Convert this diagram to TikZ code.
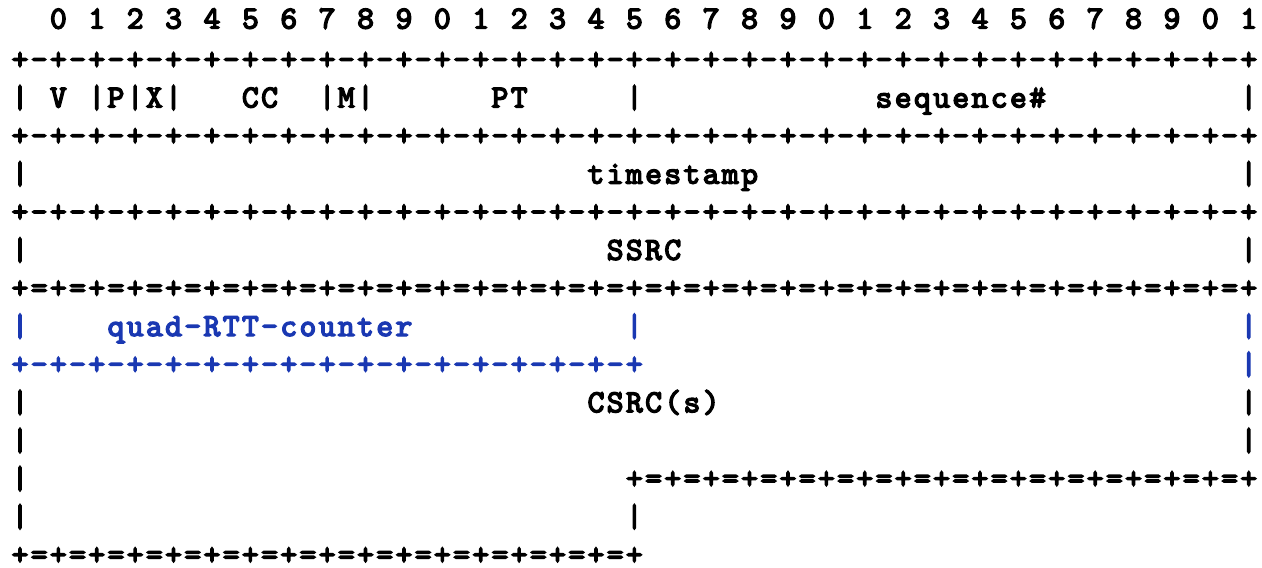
\documentclass[tikz,border=0pt]{standalone}
\usepackage{fontspec}
\newfontfamily\cmono{lmmono10-regular.otf}[FakeBold=4.5]
\definecolor{qblue}{RGB}{26,56,178}
\ExplSyntaxOn
\cs_new:Npn \myrep #1#2 { \prg_replicate:nn {#1} {#2} }
\tl_new:N \l_cellrow_tl
\cs_new_protected:Npn \cellrow #1
  {
    \tl_set:Nx \l_cellrow_tl {#1}
    \tl_map_inline:Nn \l_cellrow_tl
      {
        \tl_if_eq:nnTF {##1} {.}
          { \hbox_to_wd:nn {19.2pt} { } }
          { \hbox_to_wd:nn {19.2pt} { \hss ##1 \hss } }
      }
  }
\ExplSyntaxOff
\tikzset{
  asciirow/.style={anchor=base west, inner sep=0pt, outer sep=0pt,
    font={\cmono\bfseries\fontsize{32}{38}\selectfont}, text=black},
  bluerow/.style={asciirow, text=qblue}
}
\begin{document}
\begin{tikzpicture}[x=1pt,y=1pt]
\fill[white] (0,0) rectangle (1262,-568);
\useasboundingbox (0,0) rectangle (1262,-568);
\def\lx{10.4}
\node[asciirow] (r1) at (\lx,-28.5) {\cellrow{..0.1.2.3.4.5.6.7.8.9.0.1.2.3.4.5.6.7.8.9.0.1.2.3.4.5.6.7.8.9.0.1}};
\node[asciirow] (r2) at (\lx,-69.3) {\cellrow{\myrep{32}{+-}+}};
\node[asciirow] (r3) at (\lx,-107.4) {\cellrow{|.V.|P|X|\myrep{3}{.}CC\myrep{2}{.}|M|\myrep{6}{.}PT\myrep{5}{.}|\myrep{12}{.}sequence\#\myrep{10}{.}|}};
\node[asciirow] (r4) at (\lx,-145.5) {\cellrow{\myrep{32}{+-}+}};
\node[asciirow] (r5) at (\lx,-183.6) {\cellrow{|\myrep{29}{.}timestamp\myrep{25}{.}|}};
\node[asciirow] (r6) at (\lx,-221.7) {\cellrow{\myrep{32}{+-}+}};
\node[asciirow] (r7) at (\lx,-259.8) {\cellrow{|\myrep{30}{.}SSRC\myrep{29}{.}|}};
\node[asciirow] (r8) at (\lx,-297.9) {\cellrow{\myrep{32}{+=}+}};
\node[bluerow] (r9) at (\lx,-336.0) {\cellrow{|\myrep{4}{.}quad-RTT-counter\myrep{11}{.}|\myrep{31}{.}|}};
\node[bluerow] (r10) at (\lx,-374.1) {\cellrow{\myrep{16}{+-}+\myrep{31}{.}|}};
\node[asciirow] (r11) at (\lx,-412.2) {\cellrow{|\myrep{29}{.}CSRC(s)\myrep{27}{.}|}};
\node[asciirow] (r12) at (\lx,-450.3) {\cellrow{|\myrep{63}{.}|}};
\node[asciirow] (r13) at (\lx,-488.4) {\cellrow{|\myrep{31}{.}\myrep{16}{+=}+}};
\node[asciirow] (r14) at (\lx,-526.5) {\cellrow{|\myrep{31}{.}|}};
\node[asciirow] (r15) at (\lx,-564.6) {\cellrow{\myrep{16}{+=}+}};
\end{tikzpicture}
\end{document}
